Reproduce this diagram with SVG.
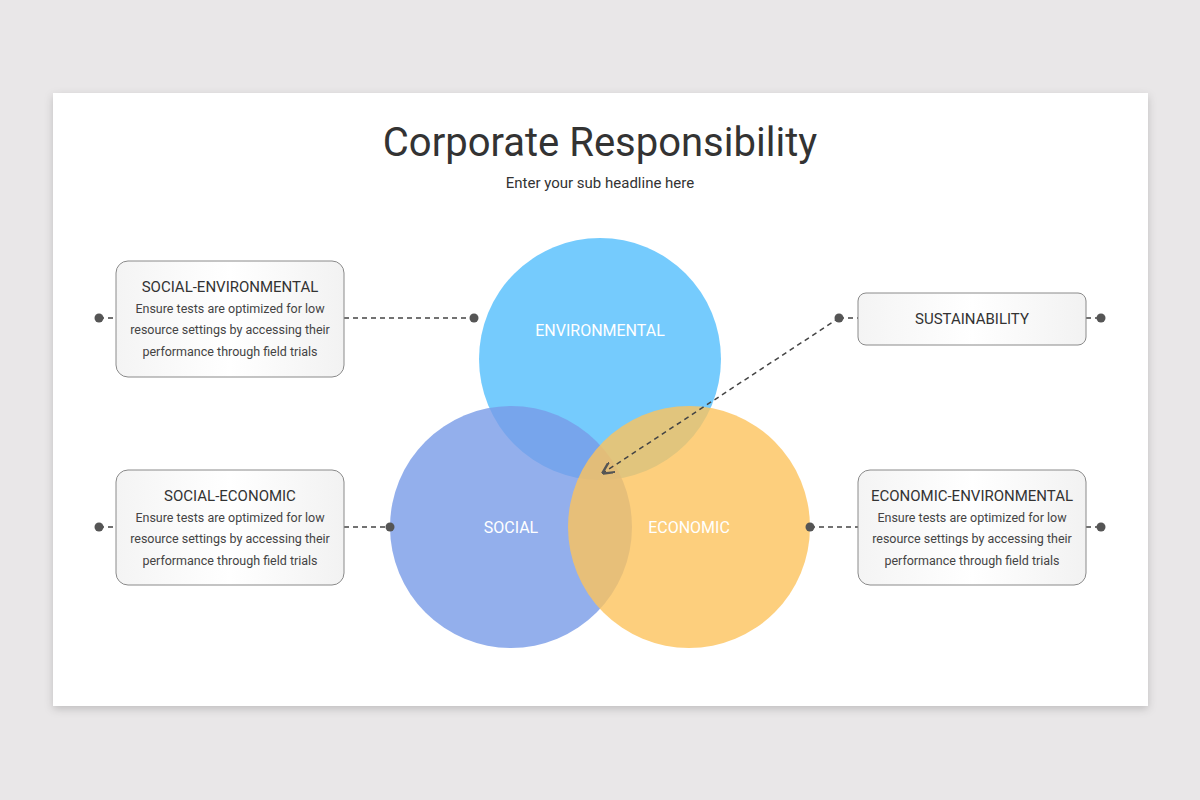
<svg xmlns="http://www.w3.org/2000/svg" width="1200" height="800" viewBox="0 0 1200 800">
<defs>
<linearGradient id="bg" x1="0" y1="0" x2="1" y2="0">
<stop offset="0" stop-color="#f4f4f4"/><stop offset="0.5" stop-color="#ffffff"/><stop offset="1" stop-color="#f2f2f2"/>
</linearGradient>
<filter id="sh" x="-5%" y="-5%" width="110%" height="115%"><feDropShadow dx="0" dy="3" stdDeviation="4" flood-color="#000" flood-opacity="0.18"/></filter>
<marker id="ah" viewBox="0 0 10 10" refX="9" refY="5" markerWidth="8" markerHeight="8" orient="auto"><path d="M0,0 L10,5 L0,10" fill="none" stroke="#555" stroke-width="2"/></marker>
<style>
.box{fill:url(#bg);stroke:#8a8a8a;stroke-width:1}
.t{font-family:Roboto,"Liberation Sans",sans-serif;fill:#333;text-anchor:middle}
.h{font-size:15px}
.b{font-size:12.5px;fill:#444}
.c{font-family:Roboto,"Liberation Sans",sans-serif;fill:#fff;font-size:16px;text-anchor:middle}
.d{stroke:#444;stroke-width:1.5;stroke-dasharray:5 4;fill:none}
.dot{fill:#555}
</style>
</defs>
<rect width="1200" height="800" fill="#e9e7e8"/>
<rect x="53" y="93" width="1095" height="613" fill="#fff" filter="url(#sh)"/>
<text class="t" x="600" y="156" font-size="40" fill="#222">Corporate Responsibility</text>
<text class="t" x="600" y="188" font-size="15" fill="#222">Enter your sub headline here</text>
<g id="circles">
<circle cx="600" cy="359" r="121" fill="#52befc" opacity="0.8"/>
<circle cx="511" cy="527" r="121" fill="#789be7" opacity="0.8"/>
<circle cx="689" cy="527" r="121" fill="#fcc35c" opacity="0.8"/>
<text class="c" x="600" y="336">ENVIRONMENTAL</text>
<text class="c" x="511" y="533">SOCIAL</text>
<text class="c" x="689" y="533">ECONOMIC</text>
</g>
<g id="connectors">
<path class="d" d="M99,318 H116 M344,318 H474 M99,527 H116 M344,527 H390 M810,527 H858 M1086,527 H1101 M839,318 H858 M1086,318 H1101"/>
<path class="d" d="M839,318 L603,473" marker-end="url(#ah)"/>
<circle class="dot" cx="99" cy="318" r="4.5"/><circle class="dot" cx="474" cy="318" r="4.5"/>
<circle class="dot" cx="99" cy="527" r="4.5"/><circle class="dot" cx="390" cy="527" r="4.5"/>
<circle class="dot" cx="810" cy="527" r="4.5"/><circle class="dot" cx="1101" cy="527" r="4.5"/>
<circle class="dot" cx="839" cy="318" r="4.5"/><circle class="dot" cx="1101" cy="318" r="4.5"/>
</g>
<g id="social-environmental">
<rect class="box" x="116" y="261" width="228" height="116" rx="12"/>
<text class="t h" x="230" y="292">SOCIAL-ENVIRONMENTAL</text>
<text class="t b" x="230" y="313">Ensure tests are optimized for low</text>
<text class="t b" x="230" y="334">resource settings by accessing their</text>
<text class="t b" x="230" y="356">performance through field trials</text>
</g>
<g id="social-economic">
<rect class="box" x="116" y="470" width="228" height="115" rx="12"/>
<text class="t h" x="230" y="501">SOCIAL-ECONOMIC</text>
<text class="t b" x="230" y="522">Ensure tests are optimized for low</text>
<text class="t b" x="230" y="543">resource settings by accessing their</text>
<text class="t b" x="230" y="565">performance through field trials</text>
</g>
<g id="sustainability">
<rect class="box" x="858" y="293" width="228" height="52" rx="8"/>
<text class="t h" x="972" y="324">SUSTAINABILITY</text>
</g>
<g id="economic-environmental">
<rect class="box" x="858" y="470" width="228" height="115" rx="12"/>
<text class="t h" x="972" y="501">ECONOMIC-ENVIRONMENTAL</text>
<text class="t b" x="972" y="522">Ensure tests are optimized for low</text>
<text class="t b" x="972" y="543">resource settings by accessing their</text>
<text class="t b" x="972" y="565">performance through field trials</text>
</g>
</svg>
